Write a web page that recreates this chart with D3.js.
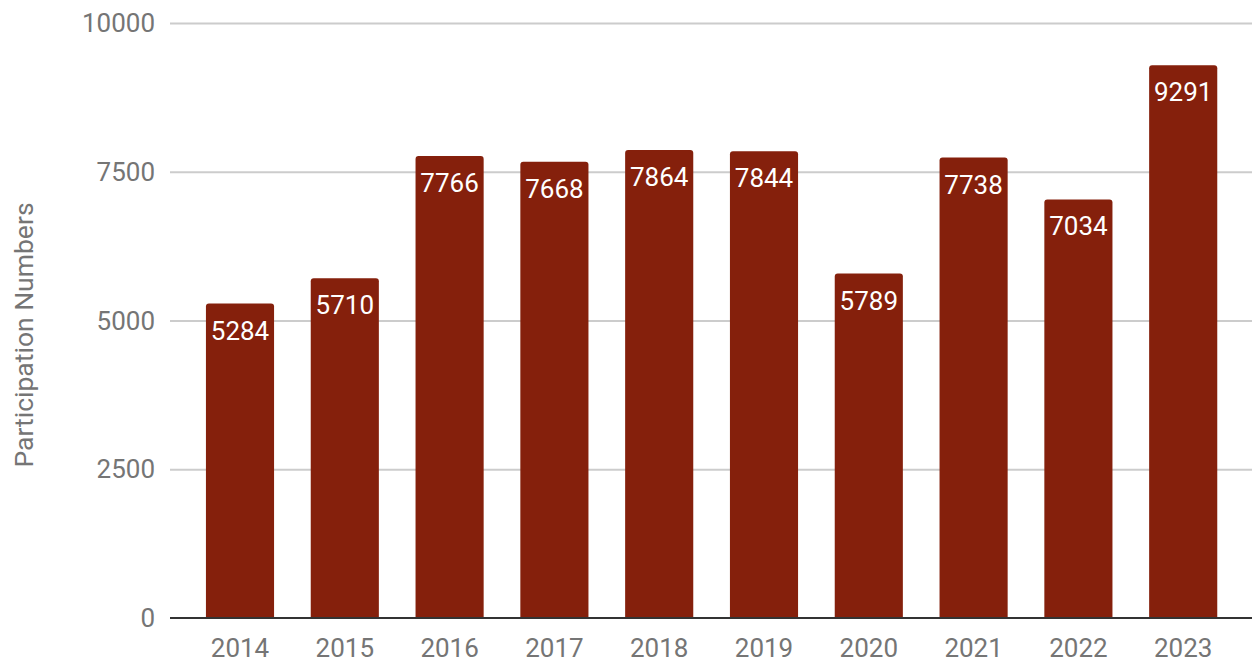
<!DOCTYPE html>
<html>
<head>
<meta charset="utf-8">
<script src="https://cdn.jsdelivr.net/npm/d3@7"></script>
<style>
  body { margin: 0; background: #fff; }
  text { font-family: Roboto, "Noto Sans", sans-serif; }
</style>
</head>
<body>
<div id="chart"></div>
<script>
const years = ["2014", "2015", "2016", "2017", "2018", "2019", "2020", "2021", "2022", "2023"];
const participants = [5284, 5710, 7766, 7668, 7864, 7844, 5789, 7738, 7034, 9291];
const yTicks = [0, 2500, 5000, 7500, 10000];

const width = 1252, height = 662;
const gridLeft = 170, gridRight = 1252;
const plotTop = 23, plotBottom = 618;

const svg = d3.select("#chart").append("svg")
  .attr("width", width)
  .attr("height", height);

const x = d3.scaleBand()
  .domain(years)
  .range([187.6, 1235.6])
  .paddingInner(0.35)
  .paddingOuter(0.175);

const y = d3.scaleLinear()
  .domain([0, 10000])
  .range([plotBottom, plotTop]);

// Grid lines
svg.append("g")
  .attr("transform", `translate(${gridLeft},0)`)
  .call(d3.axisLeft(y)
    .tickValues(yTicks.filter(d => d > 0))
    .tickSize(-(gridRight - gridLeft))
    .tickFormat(""))
  .call(g => g.select(".domain").remove())
  .selectAll("line")
  .attr("stroke", "#cccccc")
  .attr("stroke-width", 2);

// Y tick labels
svg.append("g")
  .selectAll("text")
  .data(yTicks)
  .enter().append("text")
  .attr("x", 155)
  .attr("y", d => y(d))
  .attr("dy", "0.35em")
  .attr("text-anchor", "end")
  .attr("fill", "#757575")
  .attr("font-size", 26)
  .text(d => d);

// Bars with rounded tops
const r = 3;
svg.append("g")
  .selectAll("path")
  .data(participants)
  .enter().append("path")
  .attr("fill", "#85200c")
  .attr("d", (d, i) => {
    const x0 = x(years[i]), w = x.bandwidth(), top = y(d), base = y(0);
    return `M${x0},${base}V${top + r}Q${x0},${top} ${x0 + r},${top}` +
      `H${x0 + w - r}Q${x0 + w},${top} ${x0 + w},${top + r}V${base}Z`;
  });

// Value labels
svg.append("g")
  .selectAll("text")
  .data(participants)
  .enter().append("text")
  .attr("x", (d, i) => x(years[i]) + x.bandwidth() / 2)
  .attr("y", d => y(d) + 36)
  .attr("text-anchor", "middle")
  .attr("fill", "#ffffff")
  .attr("font-size", 26)
  .text(d => d);

// Baseline
svg.append("line")
  .attr("x1", gridLeft)
  .attr("x2", gridRight)
  .attr("y1", y(0))
  .attr("y2", y(0))
  .attr("stroke", "#333333")
  .attr("stroke-width", 2);

// X labels
svg.append("g")
  .attr("transform", `translate(0,${y(0)})`)
  .call(d3.axisBottom(x).tickSize(0).tickPadding(0))
  .call(g => g.select(".domain").remove())
  .selectAll("text")
  .attr("y", 39)
  .attr("dy", 0)
  .attr("fill", "#757575")
  .attr("font-size", 26)
  .attr("font-family", "Roboto, sans-serif");

// Y axis title
svg.append("text")
  .attr("transform", "rotate(-90)")
  .attr("x", -335)
  .attr("y", 33)
  .attr("text-anchor", "middle")
  .attr("fill", "#757575")
  .attr("font-size", 26.5)
  .text("Participation Numbers");
</script>
</body>
</html>
